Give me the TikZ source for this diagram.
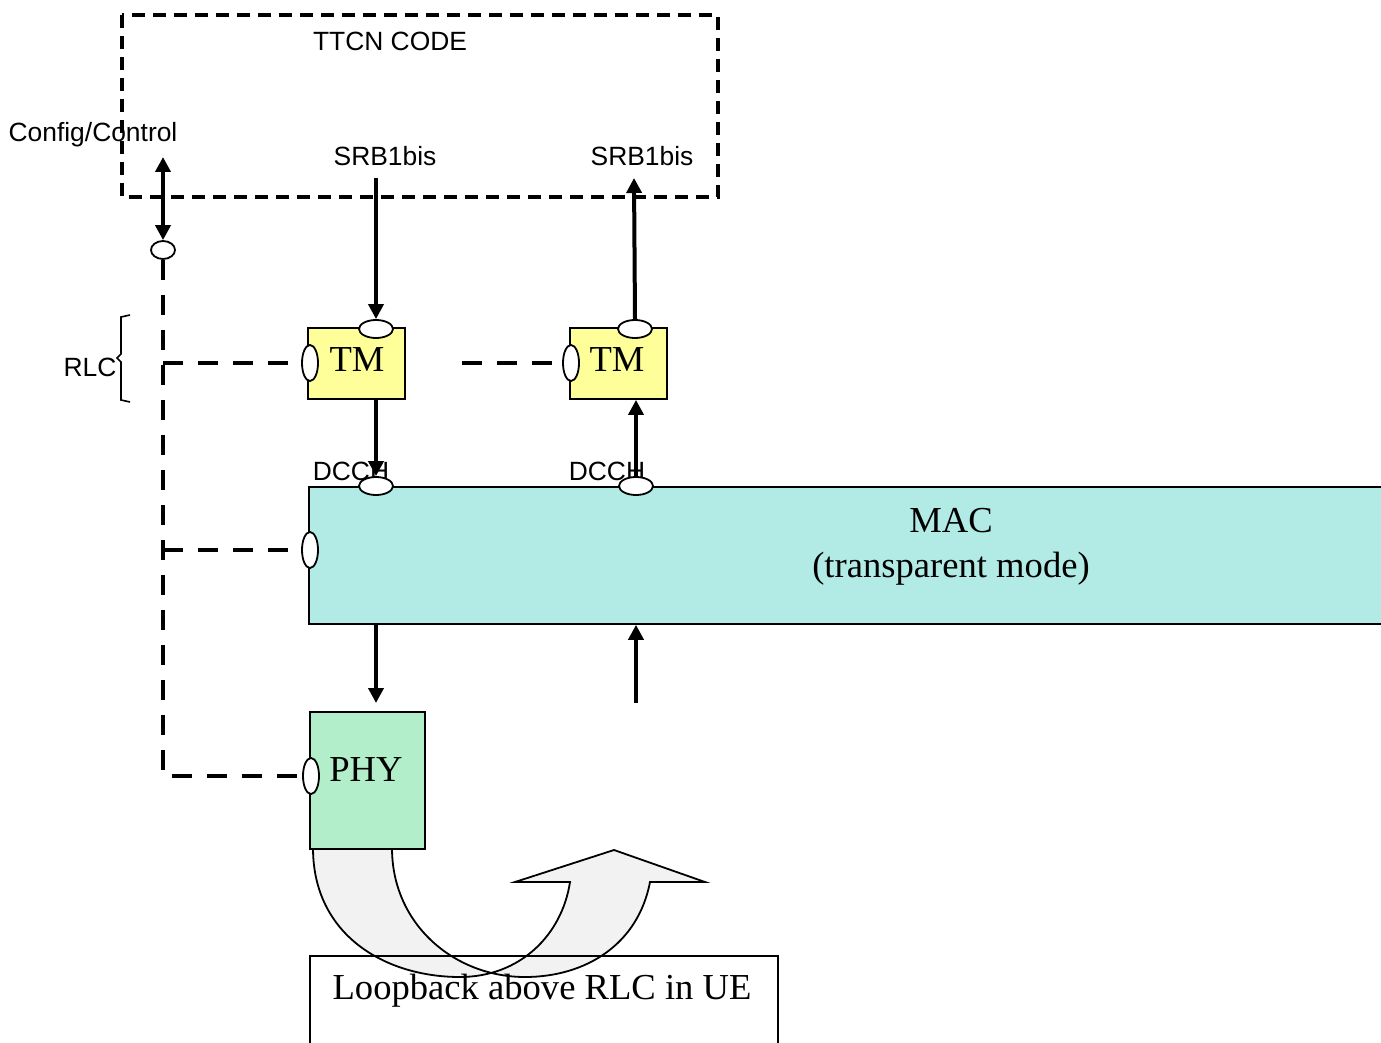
\documentclass[tikz,border=0pt]{standalone}
\usepackage{fontspec}
\setmainfont{Liberation Serif}
\setsansfont{Liberation Sans}
\usetikzlibrary{arrows.meta,positioning,calc,shapes.geometric}
\definecolor{tmfill}{HTML}{FFFF99}
\definecolor{macfill}{HTML}{B2EBE6}
\definecolor{phyfill}{HTML}{B3EECB}
\definecolor{loopfill}{HTML}{F2F2F2}

\begin{document}
\begin{tikzpicture}[
  x=0.5pt,y=-0.5pt,
  >={Triangle[length=7.5pt,width=7.5pt]},
  lbl/.style={font=\sffamily\fontsize{13.2}{15}\selectfont,inner sep=0pt},
  big/.style={font=\fontsize{18.3}{22.5}\selectfont,inner sep=0pt},
  layer/.style={draw,line width=0.9pt,inner sep=0pt,anchor=north west},
  tmbox/.style={draw,line width=0.9pt,fill=tmfill,minimum width=48.5pt,
                minimum height=35.5pt,inner sep=0pt},
  hport/.style={draw,ellipse,fill=white,line width=0.9pt,minimum width=17pt,
                minimum height=9pt,inner sep=0pt},
  vport/.style={hport,minimum width=8pt,minimum height=18pt},
  arrow/.style={->,line width=2pt},
  dblarrow/.style={<->,line width=2pt},
  ctrl/.style={line width=2.2pt,dash pattern=on 10pt off 7.5pt},
  ttcn/.style={draw,line width=1.7pt,dash pattern=on 6.5pt off 4pt}
]
\useasboundingbox (0,0) rectangle (1381,1043);

\draw[ttcn] (122,15) rectangle (718,197);
\node[lbl] (ttcntext) at (390,41) {TTCN CODE};
\node[lbl] (cfg) at (93,135) {Config/Control};
\node[lbl] (srbdn) at (385,156) {SRB1bis};
\node[lbl] (srbup) at (642,156) {SRB1bis};

\node[lbl] (rlc) at (90,367) {RLC};
\draw[line width=0.8pt] (130,315) -- (121,317) -- (121,354) -- (117,358)
  -- (121,362) -- (121,400) -- (130,402);

\node[tmbox,big] (tm1) at (356.5,363.5) {};
\node[big] (tm1text) at (357,360) {TM};
\node[tmbox,big,right=81.5pt of tm1] (tm2) {};
\node[big] (tm2text) at (617,360) {TM};

\node[layer,fill=macfill,minimum width=545pt,minimum height=68.5pt] (mac) at (308,486) {};
\node[big,align=center] (mactext) at (951,547) {MAC\\(transparent mode)};
\node[lbl] (dcch1) at (351,471) {DCCH};
\node[lbl] (dcch2) at (607,471) {DCCH};

\draw[line width=0.9pt,fill=loopfill] (313,848) .. controls (313,935) and (385,977) .. (460,977)
  .. controls (520,977) and (562,935) .. (570,882) -- (515,882) -- (614,850) -- (705,882)
  -- (650,882) .. controls (638,945) and (585,977) .. (525,977)
  .. controls (455,977) and (392,925) .. (392,848);
\node[layer,fill=phyfill,minimum width=57.5pt,minimum height=68.5pt] (phy) at (309,711) {};
\node[big] (phytext) at (366,770) {PHY};
\node[layer,minimum width=234pt,minimum height=50pt] (loopbox) at (309,955) {};
\node[big] (looptext) at (542,991) {Loopback above RLC in UE};

\node[hport] (tm1top) at (376,329) {};
\node[vport] (tm1w) at (310,363) {};
\node[hport] (tm2top) at (635,329) {};
\node[vport] (tm2w) at (571,363) {};
\node[hport] (mac1top) at (376,486) {};
\node[hport] (mac2top) at (636,486) {};
\node[vport] (macw) at (310,550) {};
\node[vport] (phyw) at (311,776) {};
\node[hport,minimum width=12pt] (ctlport) at (163,250) {};

\coordinate (ctltop) at (163,157);
\coordinate (srbin) at (376,178);
\coordinate (srbout) at (634,178);
\coordinate (gap) at (462,363);
\coordinate (phyin) at (376,703);
\coordinate (phyout) at (636,703);

\draw[dblarrow] (ctltop) -- (ctlport.north);
\draw[ctrl] (ctlport.south) |- (phyw.west);
\draw[ctrl] (ctlport |- tm1w) -- (tm1w.west);
\draw[ctrl] (ctlport |- macw) -- (macw.west);
\draw[ctrl] (gap) -- (tm2w.west);

\draw[arrow] (srbin) -- (tm1top.north);
\draw[arrow] (tm1top |- tm1.south) -- (mac1top.north);
\draw[arrow] (mac2top.north) -- (mac2top |- tm2.south);
\draw[arrow] (tm2top.north) -- (srbout);
\draw[arrow] (mac1top |- mac.south) -- (phyin);
\draw[arrow] (phyout) -- (mac2top |- mac.south);
\end{tikzpicture}
\end{document}
